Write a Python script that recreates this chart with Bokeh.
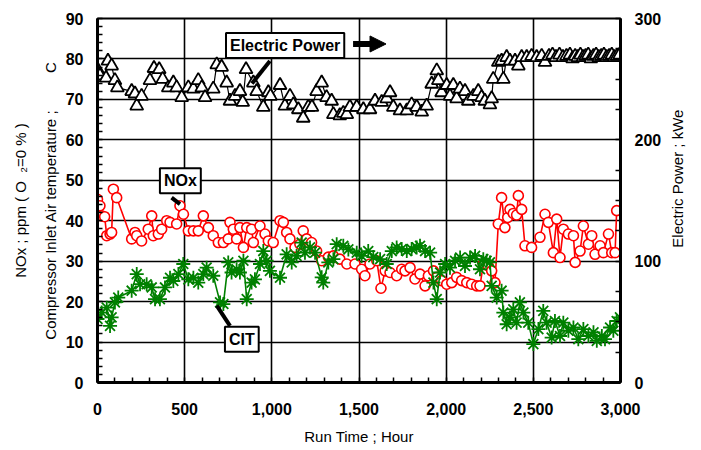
import math
from bokeh.plotting import figure
from bokeh.layouts import row
from bokeh.core.properties import value
from bokeh.models import (Range1d, LinearAxis, SingleIntervalTicker, FixedTicker,
                          NumeralTickFormatter, Label, Arrow, NormalHead)
from bokeh.embed import file_html
from bokeh.resources import INLINE

# ---------------- data ----------------
power_hours = [0, 14, 49, 60, 81, 100, 114, 196, 215, 225, 253, 301, 324, 354, 374, 406, 435, 454, 483,
               521, 550, 578, 598, 617, 664, 684, 712, 741, 760, 789, 817, 833, 852, 894, 913, 951, 980,
               992, 1047, 1075, 1104, 1123, 1152, 1180, 1209, 1230, 1257, 1286, 1314, 1343, 1353, 1390,
               1410, 1430, 1448, 1487, 1525, 1563, 1592, 1630, 1659, 1678, 1697, 1735, 1774, 1802, 1831,
               1860, 1888, 1917, 1946, 1955, 1974, 2003, 2022, 2041, 2060, 2079, 2108, 2127, 2156, 2184,
               2203, 2222, 2251, 2261, 2270, 2299, 2318, 2328, 2347, 2366, 2395, 2414, 2433, 2462, 2490,
               2519, 2548, 2567, 2590, 2610, 2630, 2650, 2670, 2690, 2710, 2725, 2740, 2755, 2770, 2785,
               2800, 2815, 2830, 2845, 2860, 2875, 2890, 2905, 2920, 2935, 2950, 2965, 2980, 2995]
power_kwe = [258, 253, 251, 265, 261, 249, 243, 240, 238, 228, 236, 249, 259, 258, 250, 243, 247, 243, 235,
             243, 242, 249, 243, 235, 242, 262, 260, 247, 232, 236, 240, 231, 258, 247, 240, 227, 239,
             236, 245, 228, 236, 229, 225, 218, 227, 227, 240, 247, 235, 232, 221, 220,
             222, 221, 227, 227, 225, 225, 232, 231, 234, 239, 227, 224, 224, 229, 227,
             223, 228, 246, 257, 249, 239, 245, 236, 245, 234, 242, 240, 232, 236, 240,
             235, 232, 229, 234, 250, 264, 265, 250, 268, 265, 265, 261, 268, 268, 269,
             268, 269, 264, 269, 270, 268, 270, 268, 269, 270, 267, 269, 268, 270, 268,
             269, 270, 267, 269, 270, 268, 269, 270, 268, 269, 270, 268, 269, 270]

nox_hours = [0, 14, 24, 41, 53, 72, 81, 91, 110, 196, 215, 225, 253, 291, 311, 320, 349, 368, 397, 416,
             454, 473, 493, 521, 550, 578, 607, 636, 664, 693, 722, 750, 760, 779, 798, 817, 837, 856,
             884, 894, 932, 961, 980, 1008, 1047, 1066, 1085, 1104, 1133, 1161, 1180, 1200, 1228, 1257,
             1286, 1324, 1353, 1390, 1430, 1477, 1515, 1534, 1563, 1602, 1626, 1650, 1678, 1716, 1745,
             1764, 1793, 1821, 1850, 1879, 1898, 1927, 1946, 1974, 2003, 2032, 2060, 2089, 2118, 2146,
             2175, 2194, 2213, 2242, 2261, 2280, 2299, 2318, 2337, 2353, 2366, 2385, 2404, 2414, 2433,
             2452, 2490, 2538, 2567, 2586, 2615, 2634, 2653, 2672, 2701, 2730, 2740, 2768, 2787, 2816,
             2835, 2854, 2883, 2902, 2931, 2950, 2969, 2978]
nox_ppm = [45.3, 43.7, 41.2, 41.0, 36.3, 36.7, 37.1, 47.8, 45.7, 35.5, 37.1, 36.3, 35.0, 37.9, 41.2, 36.3,
           36.7, 37.9, 40.0, 39.6, 39.2, 43.7, 41.6, 37.5, 37.5, 37.5, 41.2, 38.3, 36.3, 34.6, 34.6, 35.5,
           39.6, 37.9, 35.5, 38.3, 33.4, 38.3, 37.9, 34.6, 38.7, 36.7, 35.0, 34.6, 40.0, 39.6, 37.1, 35.5,
           33.4, 34.2, 37.5, 35.5, 34.6, 32.5, 30.1, 31.0, 31.3, 30.5, 29.3, 29.3, 28.0, 26.4, 29.3, 30.1,
           23.3, 27.6, 27.2, 26.4, 28.0, 27.6, 28.4, 25.6, 26.8, 23.9, 26.4, 27.6, 26.0, 25.2, 24.3, 24.7,
           26.0, 25.2, 24.7, 24.3, 23.9, 23.9, 29.3, 28.8, 27.6, 24.7, 39.2, 45.7, 38.3, 40.8, 42.8, 41.8,
           41.4, 46.2, 42.8, 33.8, 33.4, 35.9, 41.6, 39.6, 32.1, 40.4, 30.9, 37.9, 36.7, 36.3, 29.7, 32.5,
           38.7, 34.2, 36.3, 31.7, 33.8, 32.1, 36.7, 32.1, 32.1, 42.5]

cit_hours = [0, 24, 53, 72, 81, 100, 119, 196, 225, 244, 282, 311, 330, 358, 387, 416, 435, 464, 492, 521,
             550, 578, 607, 626, 664, 703, 722, 750, 769, 798, 817, 837, 856, 884, 903, 932, 951, 970,
             989, 1047, 1085, 1114, 1142, 1171, 1190, 1219, 1248, 1286, 1295, 1324, 1353, 1372, 1410,
             1439, 1487, 1515, 1553, 1582, 1621, 1659, 1688, 1716, 1745, 1774, 1802, 1831, 1850, 1879,
             1908, 1927, 1946, 1965, 1994, 2022, 2051, 2080, 2108, 2137, 2166, 2194, 2213, 2232, 2251,
             2261, 2290, 2318, 2328, 2347, 2366, 2385, 2404, 2423, 2443, 2471, 2500, 2529, 2557, 2576,
             2605, 2624, 2653, 2672, 2701, 2730, 2758, 2787, 2816, 2845, 2864, 2893, 2911, 2940, 2959,
             2978, 2997]
cit_degc = [15.7, 17.3, 18.5, 14.0, 16.1, 19.8, 21.0, 22.7, 26.8, 24.3, 24.3, 23.5, 20.6, 20.6, 23.5, 25.9,
            25.1, 26.8, 29.3, 25.5, 25.9, 24.7, 26.8, 28.4, 26.4, 19.8, 19.4, 29.7, 27.2, 28.0, 27.2, 30.1,
            20.6, 24.7, 25.5, 29.3, 32.5, 30.1, 27.6, 25.9, 31.7, 29.7, 31.3, 34.6, 32.1, 33.4, 32.1, 26.0,
            24.7, 29.7, 30.5, 34.2, 33.8, 32.9, 32.1, 31.3, 32.5, 31.0, 30.5, 29.3, 32.5, 33.4, 33.0, 32.5,
            33.0, 33.4, 33.8, 32.5, 32.1, 24.7, 20.6, 27.2, 29.3, 28.4, 30.1, 30.9, 28.8, 30.9, 31.3, 28.0,
            30.5, 30.1, 29.7, 23.9, 21.0, 22.7, 17.3, 14.4, 16.1, 18.1, 14.8, 19.8, 17.3, 14.8, 9.5, 13.2,
            17.7, 14.8, 11.1, 15.2, 11.5, 14.8, 12.8, 13.6, 10.7, 13.2, 11.5, 12.4, 10.3, 11.5, 10.7, 13.6,
            12.8, 15.2, 16.1]

FONT = "Liberation Sans"
NB = "\u00a0"
SIDE_W = 36

p = figure(width=701 - SIDE_W, height=450, output_backend="svg", toolbar_location=None,
           x_range=Range1d(0, 3000), y_range=Range1d(0, 90),
           min_border_left=97, min_border_right=81 - SIDE_W, min_border_top=18, min_border_bottom=68,
           background_fill_color="white", border_fill_color="white")
p.extra_y_ranges = {"power": Range1d(0, 300)}
p.outline_line_color = "black"
p.outline_line_width = 2

# grids
p.xgrid.ticker = SingleIntervalTicker(interval=500)
p.ygrid.ticker = SingleIntervalTicker(interval=10)
for g in (p.xgrid, p.ygrid):
    g.grid_line_color = "black"
    g.grid_line_width = 1.6

# axes
xa = p.xaxis[0]
xa.ticker = SingleIntervalTicker(interval=500, num_minor_ticks=5)
xa.formatter = NumeralTickFormatter(format="0,0")
xa.axis_label = "Run Time ; Hour"
xa.major_label_standoff = 20
xa.axis_label_standoff = 10

ya = p.yaxis[0]
ya.ticker = SingleIntervalTicker(interval=10, num_minor_ticks=5)
ya.axis_label = "Compressor Inlet Air temperature ;" + NB * 9 + "C"
ya.major_label_standoff = 14
ya.axis_label_standoff = 4

ra = LinearAxis(y_range_name="power", ticker=SingleIntervalTicker(interval=100, num_minor_ticks=4))
ra.major_label_standoff = 14
p.add_layout(ra, "right")

ya2 = LinearAxis(ticker=FixedTicker(ticks=[]), axis_label="NOx ; ppm ( O " + NB + "\u2082=0 % )")
ya2.axis_line_color = None
ya2.axis_label_standoff = 10
p.add_layout(ya2, "left")

for ax in (xa, ya, ra, ya2):
    ax.major_tick_in = 0
    ax.major_tick_out = 0
    ax.minor_tick_in = 5
    ax.minor_tick_out = 0
    ax.minor_tick_line_color = "black"
    ax.minor_tick_line_width = 1.5
    ax.major_label_text_font = FONT
    ax.major_label_text_font_style = "bold"
    ax.major_label_text_font_size = "16px"
    ax.major_label_text_color = "black"
    ax.axis_label_text_font = FONT
    ax.axis_label_text_font_style = "normal"
    ax.axis_label_text_font_size = "15px"
    ax.axis_label_text_color = "black"
for ax in (xa, ya, ra):
    ax.axis_line_color = "black"
    ax.axis_line_width = 3

# series
p.line(power_hours, power_kwe, y_range_name="power", line_color="black", line_width=1.2)
p.scatter(power_hours, power_kwe, y_range_name="power", marker="triangle", size=13,
          line_color="black", fill_color="white", line_width=1.8)

p.line(nox_hours, nox_ppm, line_color="red", line_width=1.6)
p.scatter(nox_hours, nox_ppm, marker="circle", size=10, line_color="red", fill_color="white",
          line_width=1.6)

p.line(cit_hours, cit_degc, line_color="green", line_width=1.6)
p.scatter(cit_hours, cit_degc, marker="asterisk", size=14, line_color="green", line_width=1.8)

# annotations
def boxed(text, x, y):
    lab = Label(x=x, y=y, text=text, text_font=FONT, text_font_style="bold", text_font_size="16px",
                text_color="black", text_baseline="middle", border_line_color="black",
                border_line_width=2, background_fill_color="white", padding=4)
    p.add_layout(lab)

p.segment(x0=[886, 425, 684], y0=[73.9, 45.7, 19.0], x1=[989, 473, 760], y1=[79.5, 44.1, 14.0],
          line_color="black", line_width=4)
boxed("Electric Power", 737, 83.3)
boxed("NOx", 358, 49.9)
boxed("CIT", 731, 10.7)
p.add_layout(Arrow(end=NormalHead(size=16, fill_color="black", line_color="black"),
                   x_start=1466, y_start=83.7, x_end=1655, y_end=83.7,
                   line_color="black", line_width=6))

# narrow side panel carrying the right-hand title, reading bottom to top
side = figure(width=SIDE_W, height=450, output_backend="svg", toolbar_location=None,
              x_range=Range1d(0, SIDE_W), y_range=Range1d(0, 450),
              x_axis_location=None, y_axis_location=None,
              min_border_left=0, min_border_right=0, min_border_top=0, min_border_bottom=0,
              background_fill_color="white", border_fill_color="white")
side.outline_line_color = None
side.xgrid.visible = False
side.ygrid.visible = False
side.text(x=[12], y=[252], text=["Electric Power ; kWe"], angle=math.pi / 2,
          text_align="center", text_baseline="middle", text_font=value(FONT),
          text_font_size="15px", text_color="black")

open("out.html", "w").write(file_html(row(p, side), INLINE))
